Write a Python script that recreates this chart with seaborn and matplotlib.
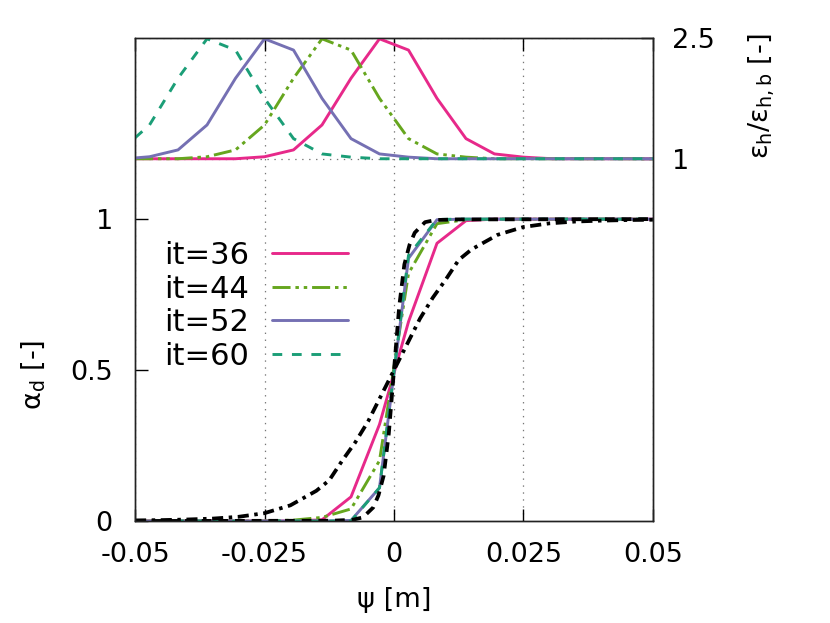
import numpy as np
import pandas as pd
import matplotlib
matplotlib.use("Agg")
import matplotlib.pyplot as plt
import seaborn as sns

# cell centres of the mesh plus the two boundaries
psi = [-0.05, -0.0472, -0.0417, -0.0361, -0.0306, -0.025, -0.0194, -0.0139, -0.0083, -0.0028,
       0.0028, 0.0083, 0.0139, 0.0194, 0.025, 0.0306, 0.0361, 0.0417, 0.0472, 0.05]

iters = ["it=36", "it=44", "it=52", "it=60"]
colors = ["#e7298a", "#66a61e", "#7570b3", "#1b9e77"]

# volume fraction alpha_d per iteration
alpha_36 = [0, 0, 0, 0, 0, 0, 0, 0.004, 0.08, 0.32, 0.66, 0.92, 0.995, 1, 1, 1, 1, 1, 1, 1]
alpha_44 = [0, 0, 0, 0, 0, 0, 0.003, 0.012, 0.04, 0.2, 0.82, 0.985, 0.998, 1, 1, 1, 1, 1, 1, 1]
alpha_52 = [0, 0, 0, 0, 0, 0, 0, 0, 0.002, 0.11, 0.87, 0.998, 1, 1, 1, 1, 1, 1, 1, 1]
alpha_60 = [0, 0, 0, 0, 0, 0, 0, 0, 0, 0.11, 0.88, 0.999, 1, 1, 1, 1, 1, 1, 1, 1]

# eps_h / eps_h,b per iteration (right axis)
eps_36 = [1.0, 1.0, 1.0, 1.0, 1.0, 1.025, 1.11, 1.42, 2.0, 2.49, 2.35, 1.75, 1.25, 1.06, 1.02,
          1.0, 1.0, 1.0, 1.0, 1.0]
eps_44 = [1.0, 1.0, 1.0, 1.025, 1.11, 1.42, 2.0, 2.49, 2.35, 1.75, 1.25, 1.06, 1.02, 1.0, 1.0,
          1.0, 1.0, 1.0, 1.0, 1.0]
eps_52 = [1.01, 1.025, 1.11, 1.42, 2.0, 2.49, 2.35, 1.75, 1.25, 1.06, 1.02, 1.0, 1.0, 1.0, 1.0,
          1.0, 1.0, 1.0, 1.0, 1.0]
eps_60 = [1.26, 1.42, 2.0, 2.49, 2.35, 1.75, 1.25, 1.06, 1.02, 1.0, 1.0, 1.0, 1.0, 1.0, 1.0,
          1.0, 1.0, 1.0, 1.0, 1.0]

# reference profiles (black)
psi_sharp = [-0.05, -0.012, -0.008, -0.006, -0.004, -0.003, -0.002, -0.001, 0, 0.001, 0.002,
             0.003, 0.004, 0.006, 0.008, 0.012, 0.05]
alpha_sharp = [0, 0.001, 0.004, 0.012, 0.045, 0.085, 0.15, 0.29, 0.5, 0.71, 0.85, 0.915, 0.955,
               0.99, 0.997, 0.999, 1.0]
psi_wide = [-0.05, -0.045, -0.04, -0.035, -0.03, -0.025, -0.02, -0.015, -0.0125, -0.01, -0.0075,
            -0.005, -0.0025, 0, 0.0025, 0.005, 0.0075, 0.01, 0.0125, 0.015, 0.02, 0.025, 0.03,
            0.035, 0.04, 0.045, 0.05]
alpha_wide = [0.002, 0.003, 0.005, 0.008, 0.014, 0.026, 0.052, 0.1, 0.135, 0.2, 0.26, 0.33, 0.415,
              0.5, 0.585, 0.67, 0.74, 0.8, 0.865, 0.9, 0.948, 0.974, 0.986, 0.992, 0.995, 0.997,
              0.998]

alphas = [alpha_36, alpha_44, alpha_52, alpha_60]
epss = [eps_36, eps_44, eps_52, eps_60]
styles = ["-", (0, (13, 3.5, 2.5, 3.5, 2.5, 3.5)), "-", (0, (7, 7))]

sns.set_style("ticks")
plt.rcParams["font.family"] = ["DejaVu Sans"]
plt.rcParams["mathtext.default"] = "regular"
plt.rcParams["lines.scale_dashes"] = False
plt.rcParams["text.color"] = "black"
plt.rcParams["xtick.color"] = "black"
plt.rcParams["ytick.color"] = "black"

fig = plt.figure(figsize=(8.3, 6.23), dpi=100)
ax = fig.add_axes([0.1627, 0.1637, 0.624, 0.7753])
ax2 = ax.twinx()

for lab, a, c, ls in zip(iters, alphas, colors, styles):
    sns.lineplot(x=psi, y=a, ax=ax, color=c, linestyle=ls, linewidth=2.1, label=lab)
sns.lineplot(x=psi_wide, y=alpha_wide, ax=ax, color="black", linewidth=2.7,
             linestyle=(0, (8, 4, 2.5, 4)), legend=False)
sns.lineplot(x=psi_sharp, y=alpha_sharp, ax=ax, color="black", linewidth=2.7,
             linestyle=(0, (7, 5)), legend=False)

for e, c, ls in zip(epss, colors, styles):
    sns.lineplot(x=psi, y=e, ax=ax2, color=c, linestyle=ls, linewidth=2.1, legend=False)

ax.set_xlim(-0.05, 0.05)
ax.set_ylim(0, 1.6)
ax2.set_ylim(-3.5, 2.5)
ax.set_xticks([-0.05, -0.025, 0, 0.025, 0.05])
ax.set_xticklabels(["-0.05", "-0.025", "0", "0.025", "0.05"])
ax.set_yticks([0, 0.5, 1])
ax.set_yticklabels(["0", "0.5", "1"])
ax2.set_yticks([1, 2.5])
ax2.set_yticklabels(["1", "2.5"])

ax.tick_params(axis="x", direction="in", length=9, width=1, labelsize=19.5, pad=15,
               top=True)
ax.tick_params(axis="y", direction="in", length=9, width=1, labelsize=19.5, pad=16,
               right=False)
ax2.tick_params(axis="y", direction="in", length=9, width=1, labelsize=19.5, pad=14)
ax.set_xlabel("")
ax.set_ylabel("")
ax2.set_ylabel("")

grid_kw = dict(color="#777777", linestyle=(0, (1, 4)), linewidth=0.9)
ax.grid(axis="x", **grid_kw)
ax.grid(axis="y", visible=False)
ax2.grid(axis="y", **grid_kw)

for sp in list(ax.spines.values()) + list(ax2.spines.values()):
    sp.set_visible(True)
    sp.set_color("#222222")
    sp.set_linewidth(1.0)

ax.legend(loc="upper left", bbox_to_anchor=(164 / 830, 1 - 241 / 623),
          bbox_transform=fig.transFigure, frameon=False, markerfirst=False,
          fontsize=22, handlelength=2.5, handletextpad=0.75, labelspacing=0.15,
          borderpad=0, borderaxespad=0)

fig.text(394 / 830, 1 - 600 / 623, "ψ [m]", fontsize=19.5, ha="center", va="center")
fig.text(33 / 830, 1 - 375 / 623, r"$\alpha_d$ [-]", fontsize=19.5, rotation=90,
         ha="center", va="center")
fig.text(762 / 830, 1 - 96 / 623, r"$\varepsilon_h/\varepsilon_{h,b}$ [-]", fontsize=19.5,
         rotation=90, ha="center", va="center")

fig.savefig("out.png", dpi=100)
